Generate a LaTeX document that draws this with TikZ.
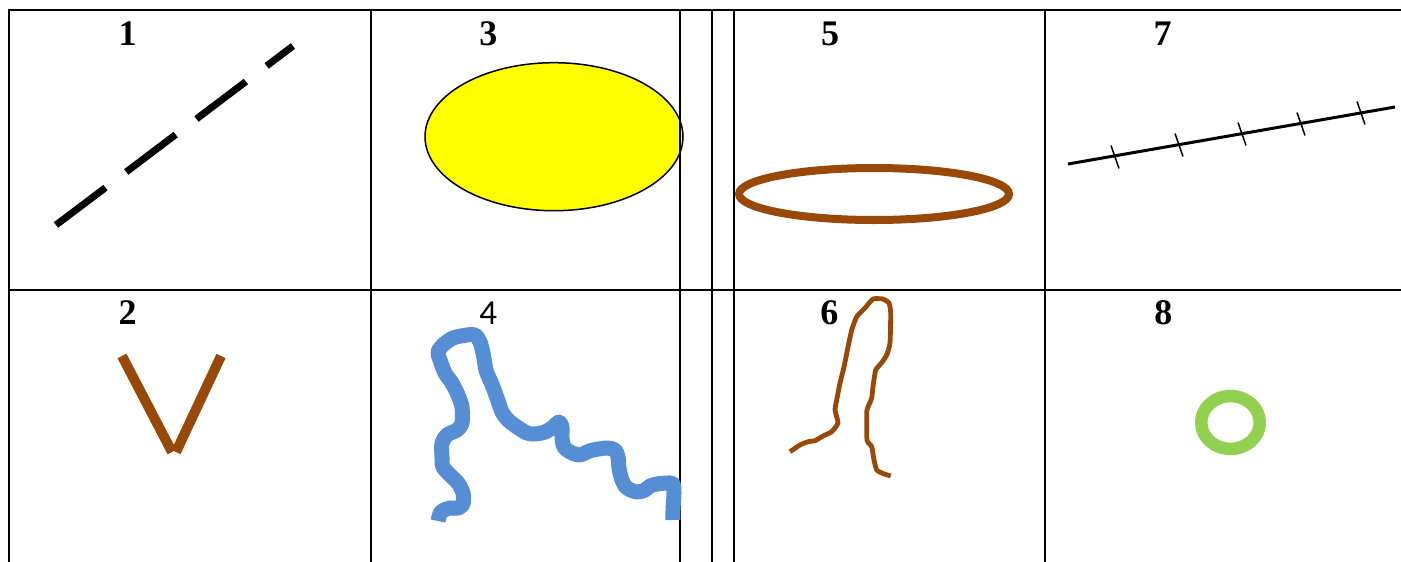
\documentclass[tikz,border=0pt]{standalone}
\usepackage{fontspec}
\setmainfont{Liberation Serif}
\newfontfamily\labsans{Carlito}
\definecolor{brownline}{RGB}{152,72,7}
\definecolor{bluesq}{RGB}{85,142,213}
\definecolor{greenring}{RGB}{146,208,80}
\definecolor{yellowfill}{RGB}{255,255,0}
\tikzset{
  gridline/.style={line width=2pt, black},
  numlab/.style={anchor=base, inner sep=0pt, font=\fontsize{36}{40}\selectfont\bfseries},
  numlabsans/.style={anchor=base, inner sep=0pt, font=\fontsize{35}{40}\selectfont\labsans},
}
\begin{document}
\begin{tikzpicture}[x=1pt, y=-1pt]
\useasboundingbox (0,0) rectangle (1401,562);
\fill[white] (0,0) rectangle (1401,562);

% panel 3: yellow ellipse (under grid)
\draw[line width=1.5pt, fill=yellowfill] (554,136.7) ellipse [x radius=129, y radius=74];

% grid
\draw[gridline] (8,10) -- (1401,10);
\draw[gridline] (8,290) -- (1401,290);
\foreach \gx in {9,371,680,712,734,1045} {
  \draw[gridline] (\gx,9) -- (\gx,562);
}

% labels
\node[numlab] (l1) at (127.7,45.5) {1};
\node[numlab] (l3) at (488.3,45.5) {3};
\node[numlab] (l5) at (830,45.5) {5};
\node[numlab] (l7) at (1162.7,45.5) {7};
\node[numlab] (l2) at (127.7,324) {2};
\node[numlabsans] (l4) at (488.3,324) {4};
\node[numlab] (l6) at (829.3,324) {6};
\node[numlab] (l8) at (1163.3,324) {8};

% panel 1: dashed line
\draw[line width=7pt, dash pattern=on 62pt off 26pt] (56,225) -- (293,46);

% panel 2: brown V
\draw[brownline, line width=10pt] (122,356) -- (172,452);
\draw[brownline, line width=10pt] (221,356) -- (176,452);

% panel 5: brown ellipse outline
\draw[brownline, line width=8pt] (874,194) ellipse [x radius=135, y radius=26];

% panel 7: line with ticks
\draw[line width=3pt] (1068,164) -- (1395,107);
\foreach \tx/\ty in {1115/157, 1179/145, 1242/134, 1301/124, 1361/113} {
  \draw[line width=1.5pt] (\tx-4,\ty-11.5) -- (\tx+4,\ty+11.5);
}

% panel 8: green ring
\draw[greenring, line width=12.5pt] (1230.5,422.5) ellipse [x radius=29.3, y radius=26.4];

% panel 4: blue squiggle
\draw[bluesq, line width=15pt, line join=round, line cap=butt]
  plot[smooth, tension=0.5] coordinates {
  (438,521) (441,512) (450,508) (458,508) (463,504) (463,493) (458,483) (452,477) (443,467)
  (442,457) (442,443) (447,435) (457,430) (462,423) (462,407) (458,395) (452,383)
  (445,373) (440,360) (438,352) (443,345) (453,338) (467,335) (475,335) (480,342)
  (483,353) (486,370) (490,380) (493,387) (497,398) (502,412) (508,420) (517,427)
  (527,433) (535,434) (545,432) (553,427) (559,422) (562,427) (562,437) (564,447)
  (572,453) (580,455) (587,452) (593,450) (607,448) (615,450) (618,457) (619,468)
  (622,480) (627,488) (637,492) (645,490) (650,486) (657,484) (667,483) (673,484)
  (674,493) (673,510) (673,520)};

% panel 6: thin brown path
\draw[brownline, line width=4.8pt, line join=round]
  plot[smooth, tension=0.3] coordinates {
  (790,451.7) (800,445) (808,441.7) (815,440.7) (823,436) (831.7,431.7) (838,423)
  (835,410) (836.7,400) (840,383) (844,367) (848,347) (851.7,330) (856.7,316.7)
  (865,308) (873,299) (882.7,299) (889,303) (890.7,313) (890,343) (886.7,355)
  (881.7,362.7) (875.7,370) (873,386.7) (871.7,398) (868,407) (866.7,411.7)
  (867,440) (871.7,446.7) (874,460) (876.7,470) (881.7,473) (890.7,476)};
\end{tikzpicture}
\end{document}
